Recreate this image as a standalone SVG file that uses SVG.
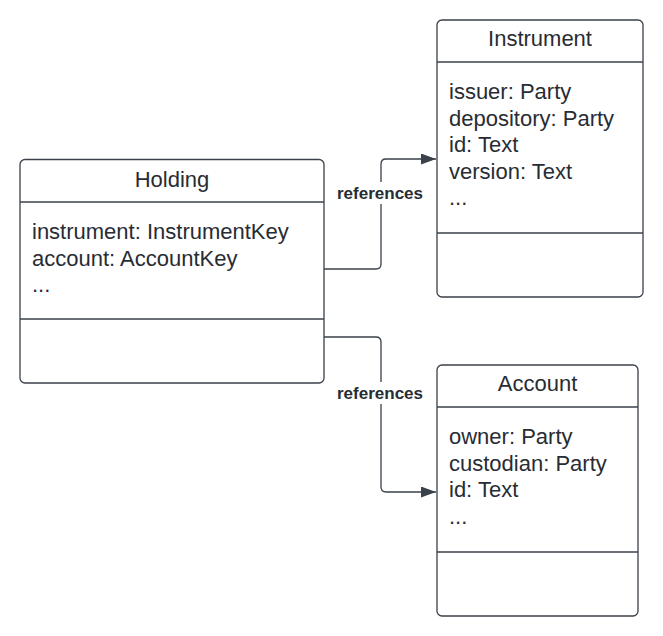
<svg xmlns="http://www.w3.org/2000/svg" width="663" height="636" viewBox="0 0 663 636">
<defs>
<style>
.box{fill:#ffffff;stroke:#3a414a;stroke-width:1.3}
.ln{stroke:#3a414a;stroke-width:1.3}
.t{font-family:"Liberation Sans",Arial,sans-serif;font-size:22px;fill:#282c33}
.tc{text-anchor:middle}
.lbl{font-family:"Liberation Sans",Arial,sans-serif;font-size:17px;font-weight:bold;fill:#282c33;text-anchor:middle}
.c{fill:none;stroke:#3a414a;stroke-width:1.3}
</style>
<marker id="arr" viewBox="0 0 15 11" refX="15" refY="5.5" markerWidth="15" markerHeight="11" markerUnits="userSpaceOnUse" orient="auto">
<path d="M0,0 L15,5.5 L0,11 Z" fill="#3a414a"/>
</marker>
</defs>
<rect width="663" height="636" fill="#ffffff"/>
<g id="connectors">
<path class="c" d="M324,269 H376 Q381,269 381,264 V164 Q381,159 386,159 H436" marker-end="url(#arr)"/>
<path class="c" d="M324,337 H376 Q381,337 381,342 V487 Q381,492 386,492 H436" marker-end="url(#arr)"/>
<rect x="333" y="182" width="96" height="22" fill="#ffffff"/>
<text class="lbl" x="380" y="199">references</text>
<rect x="333" y="382" width="96" height="22" fill="#ffffff"/>
<text class="lbl" x="380" y="399">references</text>
</g>
<g id="holding">
<rect class="box" x="20" y="159.5" width="304" height="223.5" rx="5"/>
<line class="ln" x1="20" y1="202" x2="324" y2="202"/>
<line class="ln" x1="20" y1="319" x2="324" y2="319"/>
<text class="t tc" x="172" y="187">Holding</text>
<text class="t" x="32" y="239">instrument: InstrumentKey</text>
<text class="t" x="32" y="265.5">account: AccountKey</text>
<text class="t" x="32" y="292">...</text>
</g>
<g id="instrument">
<rect class="box" x="437" y="20" width="206" height="277" rx="5"/>
<line class="ln" x1="437" y1="62" x2="643" y2="62"/>
<line class="ln" x1="437" y1="233" x2="643" y2="233"/>
<text class="t tc" x="540" y="46">Instrument</text>
<text class="t" x="449" y="99">issuer: Party</text>
<text class="t" x="449" y="125.5">depository: Party</text>
<text class="t" x="449" y="152">id: Text</text>
<text class="t" x="449" y="178.5">version: Text</text>
<text class="t" x="449" y="205">...</text>
</g>
<g id="account">
<rect class="box" x="437" y="365" width="201" height="251" rx="5"/>
<line class="ln" x1="437" y1="407" x2="638" y2="407"/>
<line class="ln" x1="437" y1="552" x2="638" y2="552"/>
<text class="t tc" x="537.5" y="391">Account</text>
<text class="t" x="449" y="444">owner: Party</text>
<text class="t" x="449" y="470.5">custodian: Party</text>
<text class="t" x="449" y="497">id: Text</text>
<text class="t" x="449" y="523.5">...</text>
</g>
</svg>
